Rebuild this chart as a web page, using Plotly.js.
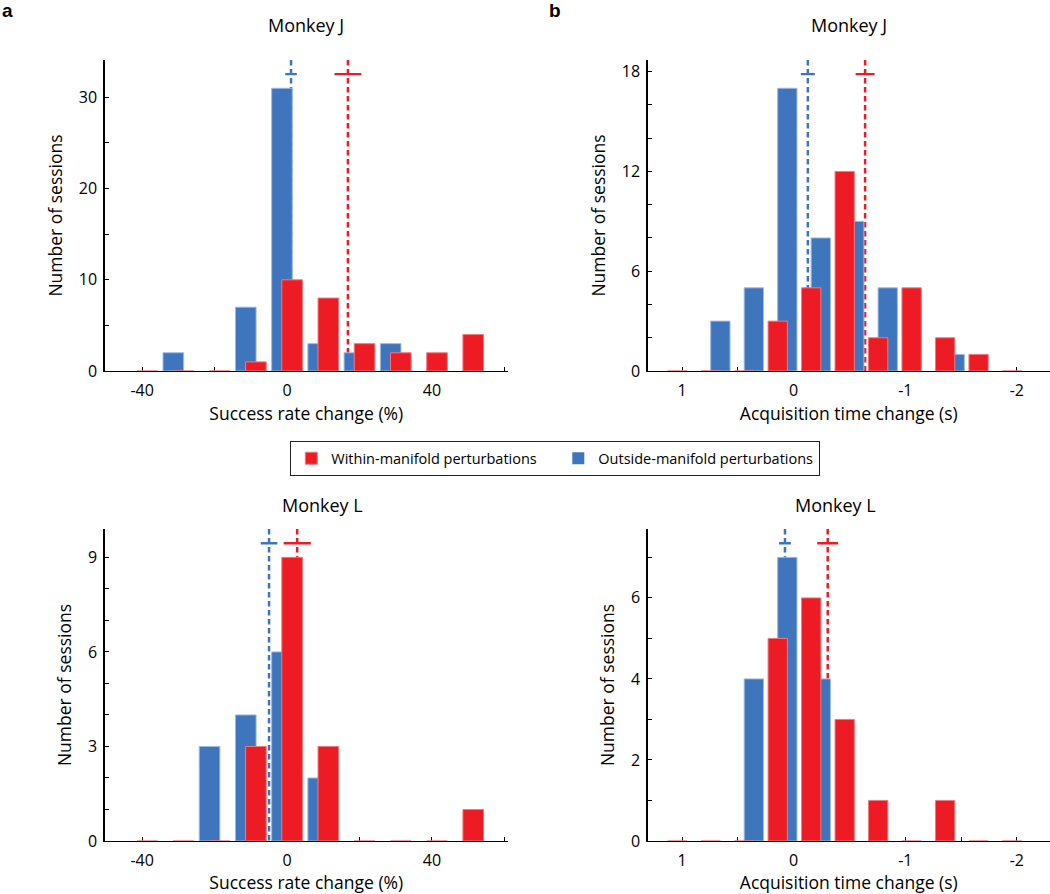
<!DOCTYPE html>
<html>
<head>
<meta charset="utf-8">
<script src="https://cdn.plot.ly/plotly-3.0.1.min.js"></script>
<style>
html,body{margin:0;padding:0;background:#fff;}
#chart{width:1050px;height:894px;}
</style>
</head>
<body>
<div id="chart"></div>
<script>
// ---------------- DATA ----------------
// histogram bin centres
const successBins = [-40, -30, -20, -10, 0, 10, 20, 30, 40, 50];
const acqBins = [1.0, 0.7, 0.4, 0.1, -0.2, -0.5, -0.8, -1.1, -1.4, -1.7, -2.0];

// Monkey J – success rate change (%)
const succJ_outside = [0, 2, 0, 7, 31, 3, 2, 3, 0, 0];
const succJ_within  = [0, 0, 0, 1, 10, 8, 3, 2, 2, 4];
// Monkey J – acquisition time change (s)
const acqJ_outside = [0, 3, 5, 17, 8, 9, 5, 0, 1, 0, 0];
const acqJ_within  = [0, 0, 0, 3, 5, 12, 2, 5, 2, 1, 0];
// Monkey L – success rate change (%)
const succL_outside = [0, 0, 3, 4, 6, 2, 0, 0, 0, 0];
const succL_within  = [0, 0, 0, 3, 9, 3, 0, 0, 0, 1];
// Monkey L – acquisition time change (s)
const acqL_outside = [0, 0, 4, 7, 4, 0, 0, 0, 0, 0, 0];
const acqL_within  = [0, 0, 0, 5, 6, 3, 1, 0, 1, 0, 0];

// means and s.e.m. (outside, within)
const meanSuccJ = [1.1, 16.8];     const semSuccJ = [1.6, 3.7];
const meanAcqJ  = [-0.127, -0.64]; const semAcqJ  = [0.063, 0.085];
const meanSuccL = [-4.97, 2.8];    const semSuccL = [2.3, 3.75];
const meanAcqL  = [0.078, -0.305]; const semAcqL  = [0.053, 0.094];

// tick labels
const succTickVals = [-40, 0, 40];   const succTickText = ['-40', '0', '40'];
const acqTickVals  = [1, 0, -1, -2]; const acqTickText  = ['1', '0', '-1', '-2'];
const yTicksSuccJ = [0, 10, 20, 30];
const yTicksAcqJ  = [0, 6, 12, 18];
const yTicksSuccL = [0, 3, 6, 9];
const yTicksAcqL  = [0, 2, 4, 6];

const panelTitles = ['Monkey J', 'Monkey J', 'Monkey L', 'Monkey L'];
const xTitles = ['Success rate change (%)', 'Acquisition time change (s)', 'Success rate change (%)', 'Acquisition time change (s)'];
const yTitle = 'Number of sessions';
const seriesNames = ['Outside-manifold perturbations', 'Within-manifold perturbations'];

// ---------------- STYLE ----------------
const W = 1050, H = 894;
const px = x => x / W;
const py = y => 1 - y / H;
const FONT = 'Open Sans, Noto Sans, sans-serif';
const C_OUT = '#3E75BC', C_IN = '#ED1C24';
const EDGE_OUT = '#9DBBE3', EDGE_IN = '#F27A7E';

const geomSucc = {width: 5.7, offOut: -1.4, offIn: 1.4};
const geomAcq  = {width: 0.173, offOut: -0.043, offIn: 0.043};

const data = [];
const shapes = [];

function addPanel(k, bins, outside, within, means, sems, geom, showLeg) {
  const xa = 'x' + (k === 1 ? '' : k), ya = 'y' + (k === 1 ? '' : k);
  const top = Math.max(...outside, ...within);
  const ymax = top * 1.1;
  const yerr = top * 1.05;
  const half = geom.width / 2;
  data.push({
    type: 'bar', x: bins, y: outside, xaxis: xa, yaxis: ya,
    width: geom.width, offset: geom.offOut - half,
    marker: {color: C_OUT, line: {color: EDGE_OUT, width: outside.map(v => v ? 1 : 0)}},
    name: seriesNames[0], legendgroup: 'out', showlegend: showLeg, legendrank: 2,
    hoverinfo: 'x+y'
  });
  data.push({
    type: 'bar', x: bins, y: within, xaxis: xa, yaxis: ya,
    width: geom.width, offset: geom.offIn - half,
    marker: {color: C_IN, line: {color: EDGE_IN, width: 1}},
    name: seriesNames[1], legendgroup: 'in', showlegend: showLeg, legendrank: 1,
    legendwidth: 222,
    hoverinfo: 'x+y'
  });
  const cols = [C_OUT, C_IN];
  for (let s = 0; s < 2; s++) {
    shapes.push({
      type: 'line', xref: xa, yref: ya, layer: 'below',
      x0: means[s], x1: means[s], y0: ymax, y1: 0,
      line: {color: cols[s], width: 2.5, dash: '5.5px,3.5px'}
    });
    data.push({
      type: 'scatter', mode: 'lines', xaxis: xa, yaxis: ya,
      x: [means[s] - sems[s], means[s] + sems[s]], y: [yerr, yerr],
      line: {color: cols[s], width: 2.4}, showlegend: false, hoverinfo: 'skip'
    });
  }
  return ymax;
}

const ymax1 = addPanel(1, successBins, succJ_outside, succJ_within, meanSuccJ, semSuccJ, geomSucc, true);
const ymax2 = addPanel(2, acqBins, acqJ_outside, acqJ_within, meanAcqJ, semAcqJ, geomAcq, false);
const ymax3 = addPanel(3, successBins, succL_outside, succL_within, meanSuccL, semSuccL, geomSucc, false);
const ymax4 = addPanel(4, acqBins, acqL_outside, acqL_within, meanAcqL, semAcqL, geomAcq, false);

const tickFont = {family: FONT, size: 16, color: '#000'};
const titleFont = {family: FONT, size: 17.5, color: '#000'};

function xAxis(domain, range, tv, tt, minorDt, yAnchor, title) {
  return {
    domain: domain, range: range, anchor: yAnchor,
    showline: true, linecolor: '#000', linewidth: 1.2, layer: 'below traces',
    ticks: 'inside', ticklen: 4, tickwidth: 1, tickcolor: '#000',
    tickmode: 'array', tickvals: tv, ticktext: tt,
    minor: {ticks: 'inside', ticklen: 4, tickwidth: 1, tickcolor: '#000', dtick: minorDt, tick0: 0, showgrid: false},
    showgrid: false, zeroline: false, tickfont: tickFont, ticklabelstandoff: 5,
    title: {text: title, font: titleFont, standoff: 7}, fixedrange: true
  };
}
function yAxis(domain, ymax, tv, minorDt, xAnchor, lblOff) {
  return {
    domain: domain, range: [0, ymax], anchor: xAnchor,
    showline: true, linecolor: '#000', linewidth: 1.2, layer: 'below traces',
    ticks: 'inside', ticklen: 4, tickwidth: 1, tickcolor: '#000',
    tickmode: 'array', tickvals: tv, ticktext: tv.map(String),
    minor: {ticks: 'inside', ticklen: 4, tickwidth: 1, tickcolor: '#000', dtick: minorDt, tick0: 0, showgrid: false},
    showgrid: false, zeroline: false, tickfont: tickFont, ticklabelstandoff: lblOff,
    title: {text: yTitle, font: titleFont, standoff: 11}, fixedrange: true
  };
}

const xdL = [px(104.5), px(508)], xdR = [px(647.5), 1.0];
const ydT = [py(371), py(60)], ydB = [py(841), py(529)];
const succRange = [-50.4, 61.0];
const acqRange = [1.31, -2.297];

const annotations = [
  {text: panelTitles[0], x: px(306), y: py(25)},
  {text: panelTitles[1], x: px(849), y: py(25)},
  {text: panelTitles[2], x: px(322), y: py(505)},
  {text: panelTitles[3], x: px(835), y: py(505)}
].map(a => Object.assign(a, {xref: 'paper', yref: 'paper', showarrow: false,
  xanchor: 'center', yanchor: 'middle', font: {family: FONT, size: 18, color: '#000'}}));
annotations.push({text: '<b>a</b>', x: 0, y: py(11), xref: 'paper', yref: 'paper', showarrow: false,
  xanchor: 'left', yanchor: 'middle', font: {family: 'Liberation Sans, Arial, sans-serif', size: 19, color: '#000'}});
annotations.push({text: '<b>b</b>', x: px(547), y: py(11), xref: 'paper', yref: 'paper', showarrow: false,
  xanchor: 'left', yanchor: 'middle', font: {family: 'Liberation Sans, Arial, sans-serif', size: 19, color: '#000'}});

const layout = {
  width: W, height: H,
  margin: {l: 0, r: 0, t: 0, b: 0},
  paper_bgcolor: '#fff', plot_bgcolor: 'rgba(0,0,0,0)',
  barmode: 'overlay',
  font: {family: FONT, color: '#000'},
  showlegend: true,
  legend: {
    orientation: 'h', x: px(555), xanchor: 'center', y: py(441), yanchor: 'top',
    bordercolor: '#222', borderwidth: 1.3, bgcolor: '#fff',
    font: {family: FONT, size: 14.5, color: '#000'},
    traceorder: 'normal', itemclick: false, itemdoubleclick: false
  },
  xaxis:  xAxis(xdL, succRange, succTickVals, succTickText, 20, 'y',  xTitles[0]),
  xaxis2: xAxis(xdR, acqRange,  acqTickVals,  acqTickText,  0.5, 'y2', xTitles[1]),
  xaxis3: xAxis(xdL, succRange, succTickVals, succTickText, 20, 'y3', xTitles[2]),
  xaxis4: xAxis(xdR, acqRange,  acqTickVals,  acqTickText,  0.5, 'y4', xTitles[3]),
  yaxis:  yAxis(ydT, ymax1, yTicksSuccJ, 5, 'x', 3),
  yaxis2: yAxis(ydT, ymax2, yTicksAcqJ, 2, 'x2', 3),
  yaxis3: yAxis(ydB, ymax3, yTicksSuccL, 1, 'x3', 3),
  yaxis4: yAxis(ydB, ymax4, yTicksAcqL, 1, 'x4', 3),
  shapes: shapes,
  annotations: annotations
};

Plotly.newPlot('chart', data, layout, {displayModeBar: false, staticPlot: true});
</script>
</body>
</html>
